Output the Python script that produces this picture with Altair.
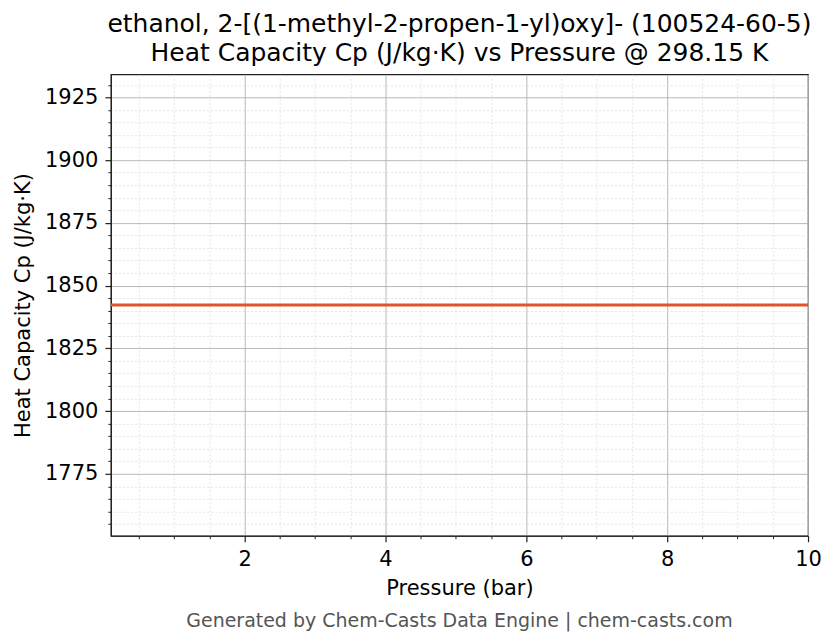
import altair as alt
import pandas as pd

# ---- data ----
pressure_bar = [0.1, 1.0, 2.0, 3.0, 4.0, 5.0, 6.0, 7.0, 8.0, 9.0, 10.0]
cp_j_per_kgk = [1842.3, 1842.3, 1842.3, 1842.3, 1842.3, 1842.3, 1842.3, 1842.3, 1842.3, 1842.3, 1842.3]

x_major = [2, 4, 6, 8, 10]
x_minor = [0.5, 1, 1.5, 2.5, 3, 3.5, 4.5, 5, 5.5, 6.5, 7, 7.5, 8.5, 9, 9.5]
y_major = [1775, 1800, 1825, 1850, 1875, 1900, 1925]
y_minor = [1755, 1760, 1765, 1770, 1780, 1785, 1790, 1795, 1805, 1810, 1815, 1820,
           1830, 1835, 1840, 1845, 1855, 1860, 1865, 1870, 1880, 1885, 1890, 1895,
           1905, 1910, 1915, 1920, 1930]
x_domain = [0.1, 10.0]
y_domain = [1750.3, 1934.2]

title_lines = ["ethanol, 2-[(1-methyl-2-propen-1-yl)oxy]- (100524-60-5)",
               "Heat Capacity Cp (J/kg\u00b7K) vs Pressure @ 298.15 K"]
x_title = "Pressure (bar)"
y_title = "Heat Capacity Cp (J/kg\u00b7K)"
footer_text = ["Generated by Chem-Casts Data Engine | chem-casts.com"]

FONT = "DejaVu Sans"
df = pd.DataFrame({"p": pressure_bar, "cp": cp_j_per_kgk})

xs = alt.Scale(domain=x_domain, nice=False, zero=False)
ys = alt.Scale(domain=y_domain, nice=False, zero=False)

minor = alt.Chart(df).mark_line(opacity=0).encode(
    x=alt.X("p:Q", scale=xs, axis=alt.Axis(
        values=x_minor, orient="bottom", labels=False, title=None, domain=False,
        tickSize=3, tickColor="#222222", tickWidth=1,
        grid=True, gridDash=[2, 2], gridColor="#d9d9d9", gridWidth=0.7)),
    y=alt.Y("cp:Q", scale=ys, axis=alt.Axis(
        values=y_minor, orient="left", labels=False, title=None, domain=False,
        tickSize=3, tickColor="#222222", tickWidth=1,
        grid=True, gridDash=[2, 2], gridColor="#d9d9d9", gridWidth=0.7)),
)

major = alt.Chart(df).mark_line(color="#E0542A", strokeWidth=3).encode(
    x=alt.X("p:Q", scale=xs, title=x_title, axis=alt.Axis(
        values=x_major, orient="bottom", format="d", labelFlush=False,
        tickSize=6, tickColor="#222222", tickWidth=1.2,
        domainColor="#222222", domainWidth=1.2,
        grid=True, gridColor="#b0b0b0", gridWidth=0.9,
        labelFont=FONT, labelFontSize=21, labelColor="#000000", labelPadding=7,
        titleFont=FONT, titleFontSize=21, titleFontWeight="normal", titleColor="#000000",
        titlePadding=8)),
    y=alt.Y("cp:Q", scale=ys, title=y_title, axis=alt.Axis(
        values=y_major, orient="left", format="d", labelFlush=False,
        tickSize=6, tickColor="#222222", tickWidth=1.2,
        domainColor="#222222", domainWidth=1.2,
        grid=True, gridColor="#b0b0b0", gridWidth=0.9,
        labelFont=FONT, labelFontSize=21, labelColor="#000000", labelPadding=7,
        titleFont=FONT, titleFontSize=21, titleFontWeight="normal", titleColor="#000000",
        titlePadding=11)),
)

footer = alt.Chart(pd.DataFrame({"t": footer_text})).mark_text(
    font=FONT, fontSize=19, color="#555555", align="center", baseline="middle"
).encode(text="t:N", x=alt.value(349), y=alt.value(547))

chart = alt.layer(minor, major, footer).resolve_axis(
    x="independent", y="independent"
).properties(
    width=698, height=462,
    title=alt.TitleParams(text=title_lines, font=FONT, fontSize=25, fontWeight="normal",
                          color="#000000", anchor="middle", frame="group", offset=8,
                          lineHeight=29),
    autosize=alt.AutoSizeParams(type="none"),
    padding={"left": 103, "top": 66, "right": 20, "bottom": 100},
).configure_view(stroke="#222222", strokeWidth=1.2)

chart.save("out.html", embed_options={"renderer": "svg", "actions": False})
